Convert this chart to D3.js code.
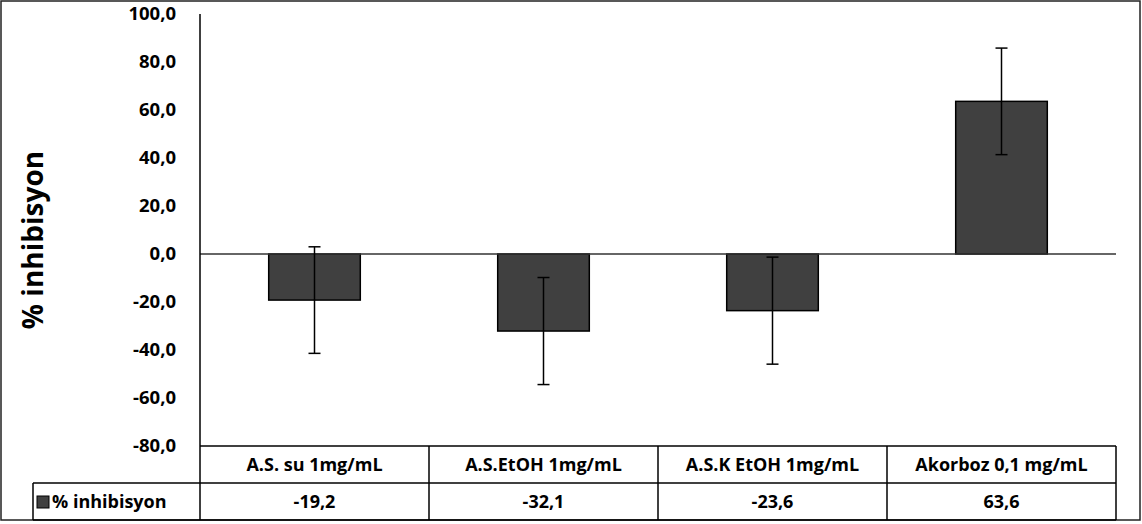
<!DOCTYPE html>
<html>
<head>
<meta charset="utf-8">
<script src="https://cdn.jsdelivr.net/npm/d3@7"></script>
<style>
  html, body { margin: 0; padding: 0; background: #fff; }
  svg { display: block; font-family: "Open Sans", sans-serif; font-weight: 700; }
</style>
</head>
<body>
<div id="chart"></div>
<script>
const categories = ['A.S. su 1mg/mL', 'A.S.EtOH 1mg/mL', 'A.S.K EtOH 1mg/mL', 'Akorboz 0,1 mg/mL'];
const values = [-19.2, -32.1, -23.6, 63.6];
const errors = [22.2, 22.3, 22.3, 22.2];
const yTicks = [-80, -60, -40, -20, 0, 20, 40, 60, 80, 100];
const seriesName = '% inhibisyon';

const width = 1142, height = 524;
const plot = { left: 200, right: 1116, top: 14, bottom: 446 };
const rowH = 37;
const tableLeft = 33;
const fontSize = 18;

const fmt = v => v.toFixed(1).replace('.', ',');

const svg = d3.select('#chart').append('svg')
  .attr('width', width)
  .attr('height', height);

const x = d3.scaleBand()
  .domain(categories)
  .range([plot.left, plot.right])
  .paddingInner(0.6)
  .paddingOuter(0.3);

const y = d3.scaleLinear()
  .domain([-80, 100])
  .range([plot.bottom, plot.top]);

// outer border
svg.append('rect')
  .attr('x', 1).attr('y', 1)
  .attr('width', 1139).attr('height', 519)
  .attr('fill', 'none')
  .attr('stroke', '#222')
  .attr('stroke-width', 1.5);

// y axis, labels only
const yAxis = d3.axisLeft(y)
  .tickValues(yTicks)
  .tickSize(0)
  .tickPadding(24)
  .tickFormat(fmt);

svg.append('g')
  .attr('transform', `translate(${plot.left},0)`)
  .call(yAxis)
  .call(g => g.select('.domain').remove())
  .call(g => g.selectAll('text')
    .attr('font-size', 18.5)
    .attr('font-family', '"Open Sans", sans-serif')
    .attr('font-weight', 700)
    .attr('fill', '#000'));

// bars
svg.append('g')
  .selectAll('rect')
  .data(values)
  .join('rect')
  .attr('x', (d, i) => x(categories[i]))
  .attr('width', x.bandwidth())
  .attr('y', d => y(Math.max(0, d)))
  .attr('height', d => Math.abs(y(d) - y(0)))
  .attr('fill', '#404040')
  .attr('stroke', '#000')
  .attr('stroke-width', 1.5);

// zero line and vertical axis line
svg.append('line')
  .attr('x1', plot.left).attr('x2', plot.right)
  .attr('y1', y(0)).attr('y2', y(0))
  .attr('stroke', '#333').attr('stroke-width', 1.3);

svg.append('line')
  .attr('x1', plot.left).attr('x2', plot.left)
  .attr('y1', plot.top).attr('y2', plot.bottom + 2 * rowH)
  .attr('stroke', '#000').attr('stroke-width', 1.5);

// error bars
const eb = svg.append('g')
  .attr('stroke', '#000')
  .attr('stroke-width', 1.5)
  .selectAll('g')
  .data(values)
  .join('g')
  .attr('transform', (d, i) => `translate(${x(categories[i]) + x.bandwidth() / 2},0)`);

eb.append('line')
  .attr('y1', (d, i) => y(d + errors[i]))
  .attr('y2', (d, i) => y(d - errors[i]));
eb.append('line')
  .attr('x1', -6).attr('x2', 6)
  .attr('y1', (d, i) => y(d + errors[i]))
  .attr('y2', (d, i) => y(d + errors[i]));
eb.append('line')
  .attr('x1', -6).attr('x2', 6)
  .attr('y1', (d, i) => y(d - errors[i]))
  .attr('y2', (d, i) => y(d - errors[i]));

// data table
const table = svg.append('g')
  .attr('fill', 'none')
  .attr('stroke', '#000')
  .attr('stroke-width', 1.5);

const row1 = plot.bottom, row2 = plot.bottom + rowH, row3 = plot.bottom + 2 * rowH;
table.append('line').attr('x1', plot.left).attr('x2', plot.right).attr('y1', row1).attr('y2', row1);
table.append('line').attr('x1', tableLeft).attr('x2', plot.right).attr('y1', row2).attr('y2', row2);
table.append('line').attr('x1', tableLeft).attr('x2', plot.right).attr('y1', row3).attr('y2', row3);
table.append('line').attr('x1', tableLeft).attr('x2', tableLeft).attr('y1', row2).attr('y2', row3);

const step = x.step();
const cellEdges = categories.map((c, i) => plot.left + step * (i + 1));
table.selectAll('line.col')
  .data(cellEdges)
  .join('line')
  .attr('class', 'col')
  .attr('x1', d => d).attr('x2', d => d)
  .attr('y1', row1).attr('y2', row3);

const cellCenter = c => x(c) + x.bandwidth() / 2;

svg.append('g')
  .selectAll('text')
  .data(categories)
  .join('text')
  .attr('x', d => cellCenter(d))
  .attr('y', row1 + 25)
  .attr('text-anchor', 'middle')
  .attr('font-size', fontSize)
  .attr('fill', '#000')
  .text(d => d);

svg.append('g')
  .selectAll('text')
  .data(values)
  .join('text')
  .attr('x', (d, i) => cellCenter(categories[i]))
  .attr('y', row2 + 25)
  .attr('text-anchor', 'middle')
  .attr('font-size', fontSize)
  .attr('fill', '#000')
  .text(d => fmt(d));

// legend key in table
svg.append('rect')
  .attr('x', 37).attr('y', row2 + 13)
  .attr('width', 12).attr('height', 12)
  .attr('fill', '#404040')
  .attr('stroke', '#000')
  .attr('stroke-width', 1);

svg.append('text')
  .attr('x', 52)
  .attr('y', row2 + 25)
  .attr('font-size', fontSize)
  .attr('fill', '#000')
  .text(seriesName);

// y axis title
svg.append('text')
  .attr('transform', `translate(43, ${(plot.top + plot.bottom) / 2 + 10}) rotate(-90)`)
  .attr('text-anchor', 'middle')
  .attr('font-size', 28)
  .attr('fill', '#000')
  .text(seriesName);
</script>
</body>
</html>
